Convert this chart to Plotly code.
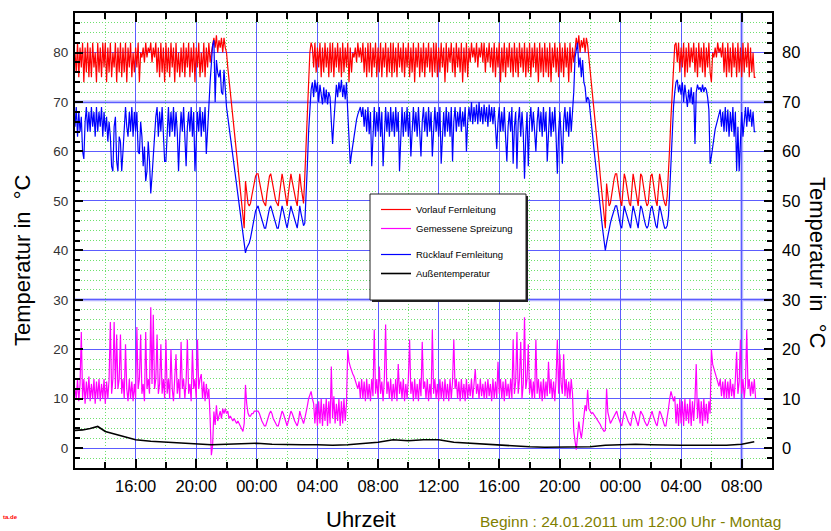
import pandas as pd
import plotly.graph_objects as go

# ---------------- data ----------------
start = pd.Timestamp("2011-01-24 12:00")
end = pd.Timestamp("2011-01-26 10:00")
times = pd.date_range(start, periods=540, freq="5min")  # 5-minute samples, one row = one hour

vorlauf = [
    80, 76, 82, 75, 81, 77, 82, 74, 81, 76, 82, 75,
    81, 75, 82, 77, 80, 74, 82, 76, 81, 75, 82, 77,
    82, 74, 81, 76, 82, 75, 80, 77, 82, 74, 81, 76,
    82, 75, 81, 76, 82, 74, 81, 77, 82, 75, 80, 76,
    81, 77, 82, 74, 80, 79, 81, 78, 82, 79, 81, 80,
    82, 78, 81, 79, 82, 76, 81, 75, 82, 76, 81, 74,
    82, 76, 81, 75, 82, 77, 81, 74, 82, 76, 80, 75,
    81, 76, 82, 75, 81, 77, 82, 75, 81, 76, 82, 74,
    81, 77, 82, 75, 80, 76, 82, 75, 81, 77, 82, 78,
    80, 82, 83, 81, 83.5, 80, 82.5, 81, 83, 80, 83, 81,
    80, 77, 74.5, 72, 69.5, 67, 64.5, 62, 59.5, 57, 54.5, 52,
    49.5, 47, 44.5, 54, 51.5, 49.5, 49, 49.5, 51, 52.5, 54, 55,
    55.5, 55.5, 54, 52.5, 51, 50, 49.5, 49, 51.5, 53.5, 55, 55.5,
    54, 52.5, 51, 50, 49.5, 49, 51.5, 53.5, 55.5, 54, 52, 50.5,
    49, 51.5, 53.5, 55.5, 54, 52.5, 51, 50, 49, 52, 55.5, 53,
    51, 49.5, 55, 62, 69, 75, 80, 82, 81, 77, 82, 76,
    81, 77, 82, 75, 81, 76, 82, 77, 81, 75, 82, 76,
    82, 75, 81, 77, 82, 76, 81, 75, 82, 76, 81, 77,
    82, 74, 81, 76, 80, 79, 81, 78, 82, 79, 81, 78,
    82, 76, 81, 75, 82, 76, 82, 75, 81, 77, 82, 75,
    81, 76, 82, 75, 81, 77, 82, 75, 81, 76, 82, 75,
    82, 76, 81, 75, 82, 77, 81, 76, 82, 75, 81, 77,
    82, 75, 81, 76, 82, 74, 81, 77, 82, 75, 81, 76,
    82, 75, 81, 77, 82, 76, 81, 75, 82, 76, 82, 75,
    81, 76, 82, 77, 81, 74, 82, 76, 81, 78, 82, 76,
    81, 75, 82, 77, 81, 76, 82, 74, 81, 76, 82, 75,
    81, 78, 82, 79, 81, 78, 82, 77, 81, 79, 82, 78,
    82, 76, 81, 78, 82, 77, 81, 76, 82, 75, 81, 77,
    82, 74, 81, 76, 82, 75, 81, 77, 82, 76, 81, 75,
    82, 76, 81, 75, 82, 77, 81, 76, 82, 75, 81, 76,
    82, 75, 81, 77, 82, 76, 81, 74, 82, 76, 81, 75,
    82, 76, 81, 75, 82, 74, 81, 77, 82, 76, 81, 75,
    82, 76, 81, 75, 82, 77, 81, 74, 82, 76, 81, 78,
    80, 83, 81, 83.5, 80, 82.5, 81, 83, 80, 83, 81.5, 79,
    77, 74.5, 71.5, 69, 66, 63.5, 60.5, 58, 55, 52.5, 49.5, 47,
    44.5, 53.5, 50.5, 49, 49.5, 51.5, 53, 54.5, 55.5, 55.5, 53.5, 51.5,
    50, 49, 52, 55.5, 54.5, 52.5, 51, 49.5, 49, 52.5, 55.5, 54,
    52, 50.5, 49, 52, 55.5, 55, 53, 51.5, 50, 49, 49.5, 52.5,
    55, 55.5, 53.5, 51.5, 50, 49, 52, 55.5, 54, 52, 50.5, 49.5,
    49, 51, 55, 61, 67, 73, 78, 81.5, 82, 78, 82, 76,
    81, 77, 82, 75, 81, 76, 82, 77, 81, 78, 82, 76,
    81, 75, 82, 77, 81, 76, 82, 75, 81, 77, 82, 76,
    74, 80, 79, 81, 79, 82, 80, 81, 79, 82, 76, 81,
    75, 82, 76, 81, 75, 82, 77, 81, 75, 82, 76, 81,
    75, 82, 76, 81, 77, 82, 75, 81, 76, 80, 75, 75,
]

ruecklauf = [
    65, 69, 63, 68, 64, 67, 60, 58.5, 66, 69, 64, 68,
    64, 69, 65, 68, 63, 69, 64, 68, 65, 69, 63, 68,
    64, 67, 62, 66, 63, 57, 56, 65, 67, 58, 56, 63,
    62, 56, 60, 66, 69, 65, 63, 68, 64, 69, 63, 68,
    64, 68, 60, 59.5, 66, 63, 57, 61, 54, 56, 62, 58,
    51.5, 55, 60, 63, 67, 69, 63, 68, 64, 69, 63, 58,
    58, 64, 69, 63, 68, 64, 69, 63, 68, 64, 56, 63,
    68, 64, 69, 63, 57, 65, 68, 64, 69, 63, 68, 56,
    63, 68, 64, 69, 63, 68, 64, 69, 59.5, 66, 69, 74,
    79, 81.5, 82.5, 70, 78.5, 76, 75, 76.5, 72, 71.5, 76.5, 72,
    69, 67, 65, 63, 61, 59, 57, 55, 53, 51, 49, 47,
    45, 43, 41, 39.5, 40.5, 41, 41.5, 42.5, 44, 45.5, 47, 48,
    48.5, 49, 48, 47, 46, 45, 44.5, 44.5, 46, 47.5, 48.5, 49,
    48, 47, 46, 45, 44.5, 44.5, 46, 47.5, 49, 48, 46.5, 45.5,
    44.5, 46, 47.5, 49, 48, 47, 46, 45, 44.5, 46.5, 49, 47.5,
    46, 45, 45.5, 50, 57, 64, 69, 72.5, 74, 71, 74.5, 72,
    74, 70, 73.5, 71, 69.5, 73, 70, 72.5, 69.5, 72, 71, 66,
    61.5, 66, 70, 73.5, 71, 74, 72, 74.5, 71, 73.5, 70.5, 74,
    68, 62, 57.5, 59.5, 61.5, 63.5, 65, 66.5, 67.5, 68.5, 69, 67,
    69, 65, 68.5, 64, 69, 63.5, 68, 57, 64, 69, 63, 68,
    64, 69, 63, 68, 57, 65, 69, 64, 68, 63, 69, 64,
    68, 63, 69, 64, 68, 56, 64, 69, 63, 68, 64, 69,
    63, 68, 59, 65, 69, 64, 68, 63, 69, 64, 59, 66,
    69, 64, 68, 63, 69, 64, 68, 59, 65, 69, 64, 68,
    63, 69, 57.5, 64, 68, 63, 69, 64, 68, 63, 69, 58,
    66, 69, 64, 68, 65, 69, 64, 68, 65, 69, 60, 66,
    69, 66, 70, 65.5, 69, 66, 69.5, 65.5, 70, 66, 69, 65.5,
    69.5, 66, 69, 65, 69.5, 66, 69, 65.5, 69, 65, 60.5, 66,
    69, 64, 68, 64, 69, 63, 58, 65, 68, 64, 69, 57.5,
    65, 68, 56.5, 66, 69, 63, 68, 64, 54.5, 63, 68, 57,
    66, 69, 64, 68, 63, 60, 66, 69, 64, 68, 63, 69,
    64, 68, 58, 65, 69, 63, 68, 64, 69, 63, 55.5, 64,
    68, 63, 57.5, 66, 69, 64, 68, 63, 69, 64, 68, 72,
    79, 81, 82, 77, 79, 75, 78.5, 74, 73, 70, 71, 70.5,
    67.5, 65, 63, 60.5, 58, 56, 53.5, 51, 49, 46.5, 44, 42,
    40, 41.5, 43, 44.5, 45.5, 46.5, 47.5, 48.5, 49, 49, 47.5, 46,
    45, 44.5, 46.5, 49, 48, 47, 46, 45, 44.5, 47, 49, 48,
    47, 45.5, 44.5, 47, 49, 48.5, 47, 46, 45, 44.5, 45, 47,
    48.5, 49, 47.5, 46, 45, 44.5, 46.5, 49, 48, 46.5, 45.5, 44.5,
    44.5, 45, 47, 52, 58, 64, 69, 72, 74, 74.5, 72, 73.5,
    71.5, 74, 70, 73.5, 71, 69, 72.5, 70, 73, 69.5, 72, 61.5,
    72, 73.5, 72.5, 73, 72, 73.5, 72, 73, 72.5, 71, 68.5, 57.5,
    59, 61, 63, 64.5, 65.5, 66.5, 67.5, 68.5, 65, 68, 64, 69,
    64, 68.5, 63, 68, 64, 69, 63, 68, 56, 65, 56, 64,
    68, 63, 67, 69, 65, 69, 66, 68.5, 65, 68, 64, 64,
]

spreizung = [
    12, 10, 14, 9.5, 13, 23.5, 10, 14, 9, 13.5, 10, 14.5,
    9.5, 13, 10, 14, 9, 13.5, 10, 14, 9.5, 13, 10, 14,
    9, 13.5, 10, 14, 25.5, 11, 14, 25.5, 12, 23, 12, 14,
    23, 11, 14, 10, 21, 12, 9.5, 14, 10, 13.5, 9.5, 13,
    10, 24.5, 12, 14, 23, 11, 13, 9.5, 23.5, 12, 14, 11,
    28.5, 13, 27, 12, 14, 23, 11, 13, 21, 11, 14, 10,
    22, 11, 14, 10, 20, 12, 9.5, 13.5, 19, 11, 14, 10,
    21.5, 12, 14, 10, 13.5, 22, 11, 13, 9.5, 20, 12, 14,
    10, 22, 12, 14, 15, 10, 13.5, 9.5, 13, 10, 12, 6,
    -1.4, 0.6, 7.4, 4.7, 8.7, 5.5, 6.7, 7.5, 6, 8, 7, 8,
    7, 7.5, 6, 6.5, 6, 5.5, 6, 5.5, 5, 5.5, 5, 4.7,
    4, 3.4, 5, 12.8, 9, 7.1, 6.5, 6.5, 7, 7, 7.5, 7.5,
    7.5, 7.5, 7, 6, 5.5, 5, 4.5, 4.5, 5.5, 6.5, 7, 7.5,
    7, 6, 5.5, 5, 4.5, 4.5, 5.5, 6.5, 7.5, 7, 6, 5,
    4.5, 5.5, 6.5, 7.5, 7, 6, 5.5, 5, 4.5, 5.5, 7.5, 6.5,
    5.5, 5, 6, 7, 8.5, 10, 11, 11.5, 10, 9, 5, 9,
    4.5, 9.5, 5, 10, 4.5, 9, 5.5, 10, 4.5, 9.5, 5, 16.5,
    6, 10.5, 5, 9, 5.5, 10, 4.5, 9.5, 5, 10, 5.5, 9,
    20, 17.5, 16.5, 15.5, 15, 14.5, 13.5, 12.5, 12, 13.5, 10, 14,
    10, 13.5, 9.5, 14, 10, 13, 9.5, 14, 10.5, 24, 11, 14,
    10, 16.5, 11, 13.5, 9.5, 14, 25, 11, 13.5, 10, 14, 9.5,
    13, 10, 14, 9.5, 17, 11, 13.5, 10, 14, 9.5, 13, 10,
    14, 22, 11, 13.5, 9.5, 14, 10, 13, 9.5, 14, 10.5, 21.5,
    12, 13.5, 10, 14, 9.5, 13, 10, 24, 11, 14, 10, 13,
    9.5, 14, 10, 13.5, 9.5, 14, 10, 13, 9.5, 14, 10, 13.5,
    22, 12, 14, 10, 13.5, 9.5, 14, 10, 13, 9.5, 14, 10,
    13, 10.5, 14, 10, 13.5, 16, 11, 13, 10, 14, 10.5, 13,
    10, 13.5, 10, 14, 10.5, 13, 9.5, 14, 10, 13.5, 10, 17.5,
    11, 14, 10, 13.5, 9.5, 14, 10.5, 13, 10, 14, 10, 22,
    11, 13.5, 23.5, 11, 14, 21.5, 10, 13, 26.5, 12, 14, 21,
    11, 14, 10, 13.5, 10, 22, 11, 14, 10, 13.5, 9.5, 14,
    10, 13.5, 10.5, 17.5, 11, 14, 10, 13.5, 9.5, 14, 22, 11,
    19, 13, 11, 19, 10.5, 14, 10, 13.5, 10, 14, 11, 3.5,
    1.5, -0.3, 2.5, 5.4, 3.5, 2, 4, 6, 8.7, 7.5, 11.8, 8,
    7.4, 7, 7.2, 6.8, 6.5, 6, 5.8, 5.2, 4.8, 4.2, 3.8, 3.4,
    3.6, 12, 7.3, 6, 5, 5.5, 6, 6.5, 7, 7.5, 6.5, 5.5,
    5, 4.5, 6, 7.5, 7, 6, 5.5, 5, 4.5, 6, 7.5, 7,
    6, 5, 4.5, 6, 7.5, 7, 6.5, 5.5, 5, 4.5, 5, 6,
    7, 7.5, 6.5, 5.5, 5, 4.5, 6, 7.5, 7, 6, 5, 4.5,
    4.5, 6, 8, 10, 11.5, 10.5, 9.5, 10.5, 5, 9, 4.5, 10,
    5, 9.5, 4.5, 10, 5.5, 9, 5, 10, 4.5, 9.5, 5.5, 10,
    17, 6, 10, 5, 9.5, 4.5, 10, 5.5, 9, 5, 9.5, 7,
    20, 17, 16, 15, 14, 13, 12.5, 14, 10.5, 13.5, 10, 14,
    10, 13.5, 10, 14, 10.5, 13, 10, 14, 19.5, 11, 13.5, 22,
    11, 14, 10, 13, 24, 12, 14, 10.5, 13.5, 11, 14, 10,
]

aussen_hours = [0, 0.5, 1, 1.5, 2, 2.5, 3] + list(range(4, 45)) + [44.83]
aussen = [
    3.6, 3.7, 4.0, 4.4, 3.4, 3.0, 2.5,
    1.7, 1.4, 1.2, 1.0, 0.9, 0.7, 0.8, 0.9, 1.0, 0.8, 0.7, 0.7, 0.7, 0.6,
    0.7, 0.9, 1.2, 1.7, 1.5, 1.7, 1.7, 1.2, 1.0, 0.8, 0.6, 0.4, 0.3, 0.2,
    0.2, 0.2, 0.3, 0.6, 0.7, 0.8, 0.7, 0.6, 0.6, 0.6, 0.6, 0.6, 0.8,
    1.3,
]
aussen_times = start + pd.to_timedelta(aussen_hours, unit="h")

tick_times = pd.date_range("2011-01-24 16:00", "2011-01-26 08:00", freq="4h")
tick_labels = [t.strftime("%H:%M") for t in tick_times]
y_ticks = [0, 10, 20, 30, 40, 50, 60, 70, 80]

# ---------------- layout helpers ----------------
W, H = 831, 531
L, R, T, B = 75, 772, 13, 468


def px(x):
    return (x - L) / (R - L)


def py(y):
    return (B - y) / (B - T)


FONT = "Liberation Sans, Arial, sans-serif"
GRID_BLUE = "#5c5cff"
GRID_GREEN = "#6ee06e"
LAVENDER = "#b4b4ff"

fig = go.Figure()
fig.add_trace(go.Scatter(x=times, y=vorlauf, mode="lines", name="Vorlauf Fernleitung",
                         line=dict(color="#ff0000", width=1.2), legendgroup="a"))
fig.add_trace(go.Scatter(x=times, y=spreizung, mode="lines", name="Gemessene Spreizung",
                         line=dict(color="#ff00ff", width=1.2), legendgroup="a"))
fig.add_trace(go.Scatter(x=times, y=ruecklauf, mode="lines", name="Rücklauf Fernleitung",
                         line=dict(color="#0000ff", width=1.2), legendgroup="b"))
fig.add_trace(go.Scatter(x=aussen_times, y=aussen, mode="lines", name="Außentemperatur",
                         line=dict(color="#000000", width=1.6), legendgroup="b", yaxis="y2"))

fig.update_layout(
    width=W, height=H,
    margin=dict(l=L, r=W - R, t=T, b=H - B),
    paper_bgcolor="white", plot_bgcolor="white",
    font=dict(family=FONT, color="black"),
    showlegend=True,
    legend=dict(x=px(376), y=py(195), xanchor="left", yanchor="top",
                bgcolor="rgba(0,0,0,0)", borderwidth=0,
                font=dict(size=9.5, family=FONT, color="black"),
                traceorder="grouped", tracegroupgap=7, itemwidth=30),
    xaxis=dict(
        type="date", range=[start, end],
        tickvals=tick_times, ticktext=tick_labels,
        ticks="inside", ticklen=9, tickwidth=1.5, tickcolor="black",
        showline=True, linecolor="black", linewidth=2, mirror="ticks",
        showgrid=True, gridcolor=GRID_BLUE, gridwidth=1,
        tickfont=dict(size=16.5, color="black"), ticklabelstandoff=2,
        zeroline=False,
        minor=dict(dtick=2 * 3600 * 1000, tick0=start, ticks="inside", ticklen=6,
                   tickwidth=1.5, tickcolor="black", showgrid=True,
                   gridcolor=GRID_GREEN, griddash="1px,2px", gridwidth=1),
    ),
    yaxis=dict(
        range=[-4, 88], tickvals=y_ticks,
        ticks="inside", ticklen=8, tickwidth=1.5, tickcolor="black",
        showline=True, linecolor="black", linewidth=2, mirror="ticks",
        showgrid=True, gridcolor=GRID_BLUE, gridwidth=1,
        tickfont=dict(size=13.5, color="#333333"), ticklabelstandoff=2,
        zeroline=False,
        minor=dict(dtick=2, tick0=0, ticks="inside", ticklen=5, tickwidth=1.5,
                   tickcolor="black", showgrid=True, gridcolor=GRID_GREEN,
                   griddash="1px,2px", gridwidth=1),
    ),
    yaxis2=dict(
        range=[-4, 88], tickvals=y_ticks, overlaying="y", side="right",
        showgrid=False, zeroline=False, showline=False, ticks="",
        tickfont=dict(size=16.5, color="black"), ticklabelstandoff=9,
    ),
    shapes=[
        dict(type="line", xref="paper", yref="y", x0=0, x1=1, y0=30, y1=30,
             line=dict(color=LAVENDER, width=3), layer="below"),
        dict(type="line", xref="paper", yref="y", x0=0, x1=1, y0=70, y1=70,
             line=dict(color=LAVENDER, width=3), layer="below"),
        dict(type="line", xref="x", yref="paper", x0=pd.Timestamp("2011-01-26 08:00"),
             x1=pd.Timestamp("2011-01-26 08:00"), y0=0, y1=1,
             line=dict(color=LAVENDER, width=3), layer="below"),
        # legend box with shadow
        dict(type="rect", xref="paper", yref="paper", x0=px(372), x1=px(528),
             y0=py(302), y1=py(196), line=dict(width=0), fillcolor="#202020",
             layer="above"),
        dict(type="rect", xref="paper", yref="paper", x0=px(370), x1=px(526),
             y0=py(300), y1=py(194), line=dict(color="#202020", width=1),
             fillcolor="white", layer="above"),
    ],
    annotations=[
        dict(text="Temperatur in  °C", xref="paper", yref="paper", x=px(22), y=py(260),
             textangle=-90, showarrow=False, font=dict(size=22, family=FONT, color="black"),
             xanchor="center", yanchor="middle"),
        dict(text="Temperatur in  °C", xref="paper", yref="paper", x=px(818), y=py(263),
             textangle=90, showarrow=False, font=dict(size=22, family=FONT, color="black"),
             xanchor="center", yanchor="middle"),
        dict(text="Uhrzeit", xref="paper", yref="paper", x=px(361), y=py(519),
             showarrow=False, font=dict(size=22, family=FONT, color="black"),
             xanchor="center", yanchor="middle"),
        dict(text="Beginn : 24.01.2011 um 12:00 Uhr - Montag", xref="paper", yref="paper",
             x=px(630), y=py(521), showarrow=False,
             font=dict(size=15.5, family=FONT, color="#808000"),
             xanchor="center", yanchor="middle"),
        dict(text="<b>ta.de</b>", xref="paper", yref="paper", x=px(1), y=py(517),
             showarrow=False, font=dict(size=6, family=FONT, color="#ff0000"),
             xanchor="left", yanchor="middle"),
    ],
)

fig.write_html("out.html", config={"displayModeBar": False},
               post_script="document.body.style.margin='0';document.body.style.overflow='hidden';")
